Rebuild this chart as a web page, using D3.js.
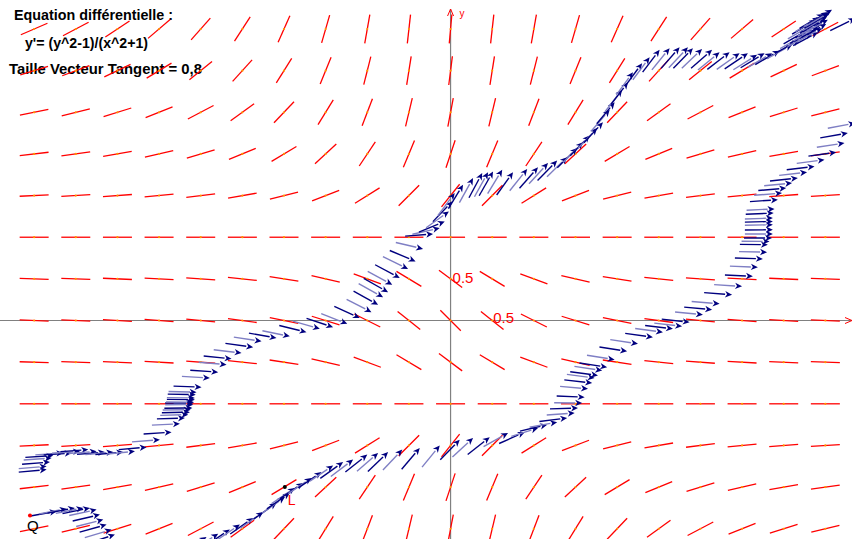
<!DOCTYPE html>
<html>
<head>
<meta charset="utf-8">
<script src="https://cdn.jsdelivr.net/npm/d3@7"></script>
<style>
  html, body { margin: 0; padding: 0; background: #fff; }
  svg { display: block; }
</style>
</head>
<body>
<svg id="chart" width="852" height="539"></svg>
<script>
// ---------------- DATA ----------------
// Grid of the slope field (tick positions, step 0.5)
const gridX = [-5, -4.5, -4, -3.5, -3, -2.5, -2, -1.5, -1, -0.5, 0, 0.5, 1, 1.5, 2, 2.5, 3, 3.5, 4, 4.5];
const gridY = [3.5, 3, 2.5, 2, 1.5, 1, 0.5, 0, -0.5, -1, -1.5, -2, -2.5];
// Equation shown in the chart: y' = (y^2-1)/(x^2+1)
const slope = (x, y) => (y * y - 1) / (x * x + 1);

const titleLines = ["Equation différentielle :", "y'= (y^2-1)/(x^2+1)", "Taille Vecteur Tangent = 0,8"];
const axisLabels = [{ text: "0.5", x: 0, y: 0.5 }, { text: "0.5", x: 0.5, y: 0 }];

// Traced points (arrow tips) of the three tangent-vector traces
const traceA_x = [-4.85,-4.85,-4.81,-4.79,-4.77,-4.65,-4.55,-4.45,-4.35,-4.25,-4.15,-4.05,-3.93,-3.79,-3.65,-3.49,-3.35,-3.25,-3.19,-3.15,-3.13,-3.12,-3.10,-3.09,-3.09,-3.08,-3.07,-3.07,-3.06,-3.05,-2.99,-2.89,-2.79,-2.69,-2.63,-2.51,-2.37,-2.27,-2.09,-1.93,-1.73,-1.57,-1.41,-1.24,-1.09,-0.95,-0.87,-0.81,-0.75,-0.70,-0.61,-0.51,-0.42,-0.33,-0.21,-0.13,-0.07,-0.02,0.02,0.05,0.15,0.27,0.38,0.45,0.51,0.62,0.75,0.92,1.05,1.17,1.28,1.40,1.52,1.59,1.67,1.76,1.83,1.91,1.97,2.06,2.13,2.19,2.30,2.39,2.51,2.63,2.75,2.85,2.91,3.02,3.14,3.23,3.35,3.47,3.57,3.68,3.77,3.86,3.95,4.10,4.19,4.25,4.29,4.34,4.39,4.43,4.48,4.53,4.58,
  4.34,4.37,4.41,4.43,4.46,4.49,4.52,4.54,4.55,4.41,4.46,4.51,4.53,4.86];
const traceA_y = [-1.79,-1.75,-1.70,-1.65,-1.62,-1.59,-1.59,-1.57,-1.55,-1.57,-1.58,-1.58,-1.58,-1.57,-1.52,-1.43,-1.34,-1.24,-1.17,-1.13,-1.10,-1.07,-1.05,-1.01,-0.99,-0.98,-0.95,-0.93,-0.89,-0.86,-0.80,-0.69,-0.62,-0.53,-0.46,-0.39,-0.32,-0.25,-0.21,-0.19,-0.14,-0.10,-0.08,-0.04,0.03,0.10,0.19,0.28,0.34,0.43,0.51,0.62,0.71,0.86,1.04,1.11,1.19,1.31,1.43,1.53,1.63,1.71,1.77,1.78,1.79,1.81,1.78,1.82,1.84,1.89,1.92,1.96,2.07,2.14,2.22,2.31,2.38,2.53,2.62,2.77,2.86,2.98,3.09,3.16,3.25,3.27,3.28,3.28,3.27,3.26,3.25,3.22,3.22,3.21,3.21,3.19,3.21,3.21,3.24,3.31,3.37,3.43,3.49,3.55,3.61,3.64,3.68,3.70,3.73,
  3.45,3.49,3.52,3.56,3.58,3.62,3.65,3.68,3.70,3.46,3.51,3.56,3.61,3.63];

const traceB_x = [-4.73,-4.61,-4.51,-4.41,-4.33,-4.25,-4.21,-4.17,-4.13,-4.07,-4.03];
const traceB_y = [-2.29,-2.26,-2.25,-2.25,-2.25,-2.27,-2.33,-2.39,-2.45,-2.51,-2.57];

const traceC_x = [-2.93,-2.79,-2.65,-2.53,-2.37,-2.25,-2.09,-1.99,-1.93,-1.87,-1.77,-1.67,-1.55,-1.41,-1.29,-1.17,-1.00,-0.87,-0.75,-0.58,-0.37,-0.13,0.11,0.27,0.47,0.69,0.89,1.05,1.16,1.28,1.40,1.49,1.53,1.58,1.61,1.65,1.70,1.73,1.77,1.82,1.88,1.97,2.12,2.25,2.43,2.55,2.67,2.78,2.87,3.03,3.14,3.23,3.38,3.50,3.63,3.69,3.75,3.80,3.81,3.83,3.86,3.87,3.87,3.87,3.87,3.87,3.88,3.89,3.93,3.98,4.03,4.10,4.17,4.28,4.37,4.49,4.63,4.73,4.77,4.86];
const traceC_y = [-2.60,-2.56,-2.51,-2.45,-2.37,-2.30,-2.19,-2.12,-2.07,-2.01,-1.95,-1.89,-1.82,-1.74,-1.70,-1.67,-1.61,-1.59,-1.58,-1.55,-1.53,-1.50,-1.43,-1.41,-1.40,-1.35,-1.34,-1.29,-1.25,-1.22,-1.17,-1.11,-1.05,-0.99,-0.92,-0.82,-0.75,-0.69,-0.66,-0.60,-0.56,-0.47,-0.37,-0.28,-0.20,-0.14,-0.10,-0.07,-0.02,0.07,0.13,0.20,0.31,0.41,0.53,0.64,0.74,0.82,0.91,0.95,0.99,1.04,1.09,1.15,1.19,1.23,1.29,1.34,1.45,1.53,1.59,1.65,1.71,1.78,1.85,1.93,2.02,2.13,2.25,2.37];

// Named points
const pointQ = { name: "Q", x: -5.05, y: -2.34 };
const pointL = { name: "L", x: -1.99, y: -2.00 };

// ---------------- DRAW ----------------
const W = 852, H = 539;
const svg = d3.select("#chart");
const x = d3.scaleLinear().domain([-5.41, 4.82]).range([0, W]);
const y = d3.scaleLinear().domain([3.848, -2.623]).range([0, H]);

const RED = "#ff0000", NAVY = "#00007f", LIGHT = "#7f7fc4", GREY = "#808080";
const SEG = 29, ARR = 28;

function dirAt(px, py) {
  const s = slope(px, py);
  const dx = x(px + 1) - x(px);
  const dy = y(py + s) - y(py);
  const n = Math.hypot(dx, dy);
  return [dx / n, dy / n];
}

// Title texts
const tl = svg.append("g").attr("font-family", "Arial, 'Liberation Sans', sans-serif")
  .attr("font-weight", "bold").attr("font-size", 14).attr("fill", "#000");
const tpos = [[14, 20, 159], [25, 48, 123], [9, 74, 193]];
titleLines.forEach((t, i) => {
  tl.append("text").attr("x", tpos[i][0]).attr("y", tpos[i][1])
    .attr("textLength", tpos[i][2]).attr("lengthAdjust", "spacingAndGlyphs").text(t);
});

// Axes
svg.append("line").attr("x1", 0).attr("x2", W).attr("y1", y(0)).attr("y2", y(0))
  .attr("stroke", GREY).attr("stroke-width", 1.2);
svg.append("line").attr("x1", x(0)).attr("x2", x(0)).attr("y1", 9).attr("y2", H)
  .attr("stroke", GREY).attr("stroke-width", 1.2);
// axis arrow tips
svg.append("path").attr("d", `M${x(0) - 3},${16} L${x(0)},${9} L${x(0) + 3},${16}`)
  .attr("fill", "none").attr("stroke", RED).attr("stroke-width", 1);
svg.append("text").attr("x", x(0) + 9).attr("y", 17).attr("font-family", "Arial, 'Liberation Sans', sans-serif")
  .attr("font-size", 10).attr("fill", RED).text("y");
svg.append("path").attr("d", `M${W - 7},${y(0) - 3} L${W},${y(0)} L${W - 7},${y(0) + 3}`)
  .attr("fill", "none").attr("stroke", RED).attr("stroke-width", 1);

// Slope field
const cells = [];
gridX.forEach(gx => gridY.forEach(gy => cells.push({ gx, gy })));
const fld = svg.append("g");
fld.selectAll("line").data(cells).join("line")
  .attr("x1", d => x(d.gx) - dirAt(d.gx, d.gy)[0] * SEG / 2)
  .attr("y1", d => y(d.gy) - dirAt(d.gx, d.gy)[1] * SEG / 2)
  .attr("x2", d => x(d.gx) + dirAt(d.gx, d.gy)[0] * SEG / 2)
  .attr("y2", d => y(d.gy) + dirAt(d.gx, d.gy)[1] * SEG / 2)
  .attr("stroke", RED).attr("stroke-width", 1.3);
fld.selectAll("circle").data(cells).join("circle")
  .attr("cx", d => x(d.gx)).attr("cy", d => y(d.gy)).attr("r", 1.1).attr("fill", "#ff9900");

// Axis labels 0.5
const lab = svg.append("g").attr("font-family", "Arial, 'Liberation Sans', sans-serif")
  .attr("font-size", 15).attr("fill", RED);
lab.append("text").attr("x", x(axisLabels[0].x) + 2).attr("y", y(axisLabels[0].y) + 4).text(axisLabels[0].text);
lab.append("text").attr("x", x(axisLabels[1].x) + 1).attr("y", y(axisLabels[1].y) + 2).text(axisLabels[1].text);

// Tangent vector traces
function drawTrace(xs, ys) {
  const pts = xs.map((v, i) => ({ x: v, y: ys[i], i }));
  const g = svg.append("g");
  pts.forEach(p => {
    const [ux, uy] = dirAt(p.x, p.y);
    const hx = x(p.x), hy = y(p.y);
    const tx = hx - ux * ARR, ty = hy - uy * ARR;
    const bx = hx - ux * 7, by = hy - uy * 7;
    g.append("line").attr("x1", tx).attr("y1", ty).attr("x2", bx).attr("y2", by)
      .attr("stroke", p.i % 2 ? LIGHT : NAVY).attr("stroke-width", 1.4);
    const nx = -uy, ny = ux;
    g.append("path")
      .attr("d", `M${hx},${hy} L${bx + nx * 3.2},${by + ny * 3.2} L${hx - ux * 5},${hy - uy * 5} L${bx - nx * 3.2},${by - ny * 3.2} Z`)
      .attr("fill", NAVY);
  });
}
drawTrace(traceA_x, traceA_y);
drawTrace(traceB_x, traceB_y);
drawTrace(traceC_x, traceC_y);

// Named points
svg.append("circle").attr("cx", x(pointQ.x)).attr("cy", y(pointQ.y)).attr("r", 2).attr("fill", RED);
svg.append("text").attr("x", x(pointQ.x) - 3).attr("y", y(pointQ.y) + 16)
  .attr("font-family", "Arial, 'Liberation Sans', sans-serif").attr("font-size", 15).attr("fill", "#000").text(pointQ.name);
svg.append("circle").attr("cx", x(pointL.x)).attr("cy", y(pointL.y)).attr("r", 2).attr("fill", "#000");
svg.append("text").attr("x", x(pointL.x) + 3).attr("y", y(pointL.y) + 18)
  .attr("font-family", "Arial, 'Liberation Sans', sans-serif").attr("font-size", 14).attr("fill", RED).text(pointL.name);
</script>
</body>
</html>
